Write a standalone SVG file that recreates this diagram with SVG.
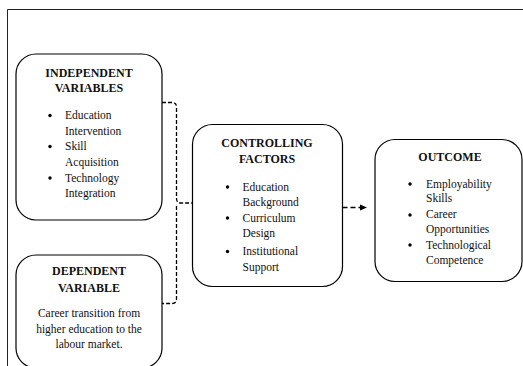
<svg xmlns="http://www.w3.org/2000/svg" width="523" height="366" viewBox="0 0 523 366">
<defs>
<style>
.box{fill:#fff;stroke:#000;stroke-width:1.2}
.t{font-family:"Liberation Serif","Times New Roman",serif;font-size:11.5px;fill:#111}
.b{font-weight:bold;font-size:12px}
.m{text-anchor:middle}
.conn{fill:none;stroke:#000;stroke-width:1.3;stroke-dasharray:4,2}
.arr{fill:none;stroke:#000;stroke-width:1.6;stroke-dasharray:5,3}
</style>
<marker id="ah" markerWidth="8" markerHeight="8" refX="6" refY="4" orient="auto" markerUnits="userSpaceOnUse">
<path d="M0,1 L7,4 L0,7 Z" fill="#000"/>
</marker>
</defs>
<rect width="523" height="366" fill="#fff"/>
<path d="M7.5,366 V9.5 H523" fill="none" stroke="#222" stroke-width="1"/>

<g id="connectors">
<path class="conn" d="M162,102.5 H172 Q176.5,102.5 176.5,107 V198 Q176.5,203 180,203 H192"/>
<path class="conn" d="M176.5,206 V299 Q176.5,303.5 172,303.5 H162"/>
<path class="arr" d="M342.5,207.5 H366" marker-end="url(#ah)"/>
</g>

<g id="independent">
<rect class="box" x="16" y="54" width="146" height="166" rx="20"/>
<text class="t b m" x="89" y="76.5">INDEPENDENT</text>
<text class="t b m" x="89" y="91.5">VARIABLES</text>
<circle cx="50" cy="115.5" r="1.7"/>
<circle cx="50" cy="146.5" r="1.7"/>
<circle cx="50" cy="178" r="1.7"/>
<text class="t" x="65" y="119">Education</text>
<text class="t" x="65" y="134.5">Intervention</text>
<text class="t" x="65" y="150">Skill</text>
<text class="t" x="65" y="165.5">Acquisition</text>
<text class="t" x="65" y="181.5">Technology</text>
<text class="t" x="65" y="197">Integration</text>
</g>

<g id="dependent">
<rect class="box" x="16" y="255" width="146" height="113" rx="20"/>
<text class="t b m" x="89" y="275">DEPENDENT</text>
<text class="t b m" x="89" y="291.5">VARIABLE</text>
<text class="t m" x="89" y="317">Career transition from</text>
<text class="t m" x="89" y="332.5">higher education to the</text>
<text class="t m" x="89" y="348">labour market.</text>
</g>

<g id="controlling">
<rect class="box" x="192.5" y="124.5" width="150" height="162" rx="20"/>
<text class="t b m" x="267" y="146.5">CONTROLLING</text>
<text class="t b m" x="267" y="162.5">FACTORS</text>
<circle cx="227.5" cy="187" r="1.7"/>
<circle cx="227.5" cy="218" r="1.7"/>
<circle cx="227.5" cy="251.5" r="1.7"/>
<text class="t" x="242.5" y="190.5">Education</text>
<text class="t" x="242.5" y="206">Background</text>
<text class="t" x="242.5" y="221.5">Curriculum</text>
<text class="t" x="242.5" y="237">Design</text>
<text class="t" x="242.5" y="255">Institutional</text>
<text class="t" x="242.5" y="270.5">Support</text>
</g>

<g id="outcome">
<rect class="box" x="375" y="139.5" width="147" height="142" rx="20"/>
<text class="t b m" x="450" y="160.5">OUTCOME</text>
<circle cx="410" cy="184" r="1.7"/>
<circle cx="410" cy="215" r="1.7"/>
<circle cx="410" cy="245" r="1.7"/>
<text class="t" x="426" y="187.5">Employability</text>
<text class="t" x="426" y="202">Skills</text>
<text class="t" x="426" y="218">Career</text>
<text class="t" x="426" y="233">Opportunities</text>
<text class="t" x="426" y="248.5">Technological</text>
<text class="t" x="426" y="263.5">Competence</text>
</g>
</svg>
